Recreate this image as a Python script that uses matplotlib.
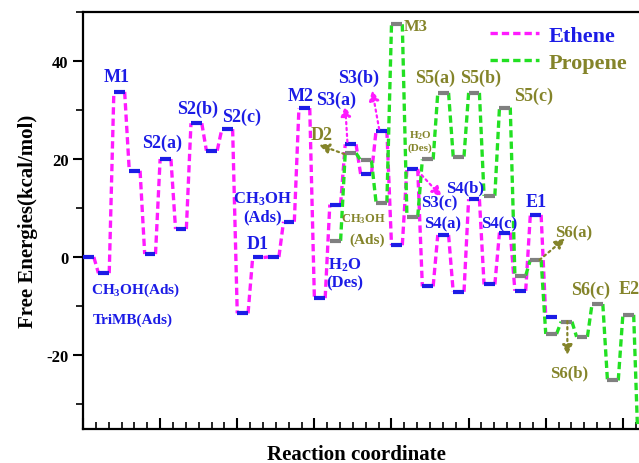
import matplotlib
matplotlib.use("Agg")
import matplotlib.pyplot as plt
from matplotlib.lines import Line2D
from matplotlib.ticker import MultipleLocator

# free energies (kcal/mol) for each step along the reaction coordinate
ethene_E = [0, -3.3, 33.7, 17.6, 0.6, 20.0, 5.7, 27.3, 21.7, 26.1,
            -11.5, -0.1, 0.0, 7.2, 30.4, -8.4, 10.7, 23.0, 16.9, 25.8,
            2.4, 18.0, -6.0, 4.5, -7.1, 11.8, -5.6, 5.0, -6.9, 8.6, -12.2]
propene_start = 16
propene_E = [3.3, 21.2, 19.7, 11.1, 47.5, 8.2, 19.9, 33.5, 20.5, 33.5,
             12.5, 30.5, -3.8, -0.6, -15.7, -13.2, -16.3, -9.6, -25.2, -11.8,
             -40.0]

# text labels: (text, x, y, colour key, size)
labels = [
    ("M1", 2.2, 36.9, "b", 13), ("S2(a)", 5.1, 23.5, "b", 13),
    ("S2(b)", 7.4, 30.4, "b", 13), ("S2(c)", 10.3, 28.8, "b", 13),
    ("CH$_3$OH\n(Ads)", 11.65, 10.2, "b", 12), ("D1", 11.3, 2.7, "b", 13),
    ("M2", 14.1, 32.9, "b", 13), ("S3(a)", 16.4, 32.2, "b", 13),
    ("S3(b)", 17.85, 36.7, "b", 13), ("H$_2$O\n(Des)", 16.95, -3.3, "b", 12),
    ("S3(c)", 23.1, 11.2, "b", 12), ("S4(a)", 23.3, 6.9, "b", 12),
    ("S4(b)", 24.8, 14.3, "b", 12), ("S4(c)", 27.0, 6.9, "b", 12),
    ("E1", 29.4, 11.4, "b", 13),
    ("CH$_3$OH(Ads)", 3.4, -6.5, "b", 11), ("TriMB(Ads)", 3.2, -12.7, "b", 11),
    ("D2", 15.5, 25.1, "o", 13), ("CH$_3$OH", 18.2, 8.0, "o", 9),
    ("(Ads)", 18.4, 3.7, "o", 11), ("M3", 21.6, 47.1, "o", 12),
    ("H$_2$O\n(Des)", 21.85, 23.8, "o", 8),
    ("S5(a)", 22.8, 36.7, "o", 13), ("S5(b)", 25.8, 36.7, "o", 13),
    ("S5(c)", 29.2, 32.9, "o", 13), ("S6(a)", 31.8, 5.1, "o", 12),
    ("S6(b)", 31.5, -23.5, "o", 12), ("S6(c)", 32.9, -6.5, "o", 13),
]

# arrows: (start, tip, colour key)
arrows = [
    ((16.95, 21.0), (15.3, 22.9), "o"),
    ((17.14, 23.5), (17.0, 30.8), "m"),
    ((19.2, 26.1), (18.75, 34.0), "m"),
    ((21.7, 17.6), (23.25, 12.3), "m"),
    ((29.6, -0.6), (31.25, 3.8), "o"),
    ((31.4, -13.1), (31.4, -20.0), "o"),
]

colors = {"m": "#ff1aff", "g": "#22e022", "b": "#1c1ce6",
          "gray": "#808080", "o": "#84842a"}

plt.rcParams['font.family'] = ['Liberation Serif', 'DejaVu Serif']
plt.rcParams['font.weight'] = 'bold'
plt.rcParams['mathtext.fontset'] = 'custom'
plt.rcParams['mathtext.rm'] = 'Liberation Serif:bold'
plt.rcParams['mathtext.it'] = 'Liberation Serif:bold'
plt.rcParams['axes.unicode_minus'] = False

fig = plt.figure(figsize=(6.39, 4.64), dpi=100)
ax = fig.add_axes([83 / 639, 34 / 464, 617 / 639, 417 / 464])

w = 0.7
dash = (0, (2.2, 1.2))


def draw_path(values, start, line_col, level_col):
    for k in range(len(values) - 1):
        i = start + k
        ax.plot([i + w, i + 1], [values[k], values[k + 1]], color=line_col,
                lw=2.4, linestyle=dash, zorder=2)
    for k, v in enumerate(values):
        i = start + k
        ax.plot([i, i + w], [v, v], color=level_col, lw=3, zorder=4,
                solid_capstyle='butt')


draw_path(ethene_E, 0, colors["m"], colors["b"])
draw_path(propene_E, propene_start, colors["g"], colors["gray"])

for txt, x, y, c, s in labels:
    ax.text(x, y, txt, color=colors[c], fontsize=s, fontweight='bold',
            ha='center', va='center', zorder=5, linespacing=1.1)
ax.text(34.7, -6.5, "E2", color=colors["o"], fontsize=13, fontweight='bold',
        ha='left', va='center', zorder=5)

for (x0, y0), (x1, y1), c in arrows:
    ax.annotate("", xy=(x1, y1), xytext=(x0, y0), zorder=5,
                arrowprops=dict(arrowstyle='-|>,head_length=0.6,head_width=0.3',
                                color=colors[c], lw=1.6, linestyle=':',
                                shrinkA=0, shrinkB=0))

ax.set_xlim(0, 40)
ax.set_ylim(-35.1, 50)
ax.xaxis.set_major_locator(MultipleLocator(5))
ax.xaxis.set_minor_locator(MultipleLocator(5 / 6))
ax.yaxis.set_major_locator(MultipleLocator(20))
ax.yaxis.set_minor_locator(MultipleLocator(10))
ax.set_xticklabels([])
ax.tick_params(axis='x', which='both', direction='in', top=False)
ax.tick_params(axis='x', which='major', length=8, width=1.5)
ax.tick_params(axis='x', which='minor', length=5, width=1.2)
ax.tick_params(axis='y', which='major', direction='out', length=7, width=1.5,
               labelsize=12)
ax.tick_params(axis='y', which='minor', direction='out', length=5, width=1.2)
for lab in ax.get_yticklabels():
    lab.set_fontweight('bold')
for sp in ax.spines.values():
    sp.set_linewidth(1.6)

ax.set_ylabel("Free Energies(kcal/mol)", fontsize=15, fontweight='bold',
              labelpad=6)
fig.text(356 / 639, 1 - 455 / 464, "Reaction coordinate", fontsize=15,
         fontweight='bold', ha='center', va='center')

handles = [Line2D([], [], color=colors["m"], lw=2.4, linestyle=dash),
           Line2D([], [], color=colors["g"], lw=2.4, linestyle=dash)]
leg = fig.legend(handles, ["Ethene", "Propene"], loc='upper left',
                 bbox_to_anchor=(490 / 639, 1 - 26 / 464), frameon=False,
                 fontsize=16, handlelength=2.2, handletextpad=0.45,
                 labelspacing=0.3, borderpad=0, borderaxespad=0)
leg.get_texts()[0].set_color(colors["b"])
leg.get_texts()[1].set_color(colors["o"])
for t in leg.get_texts():
    t.set_fontweight('bold')

fig.savefig("out.png", dpi=100)
